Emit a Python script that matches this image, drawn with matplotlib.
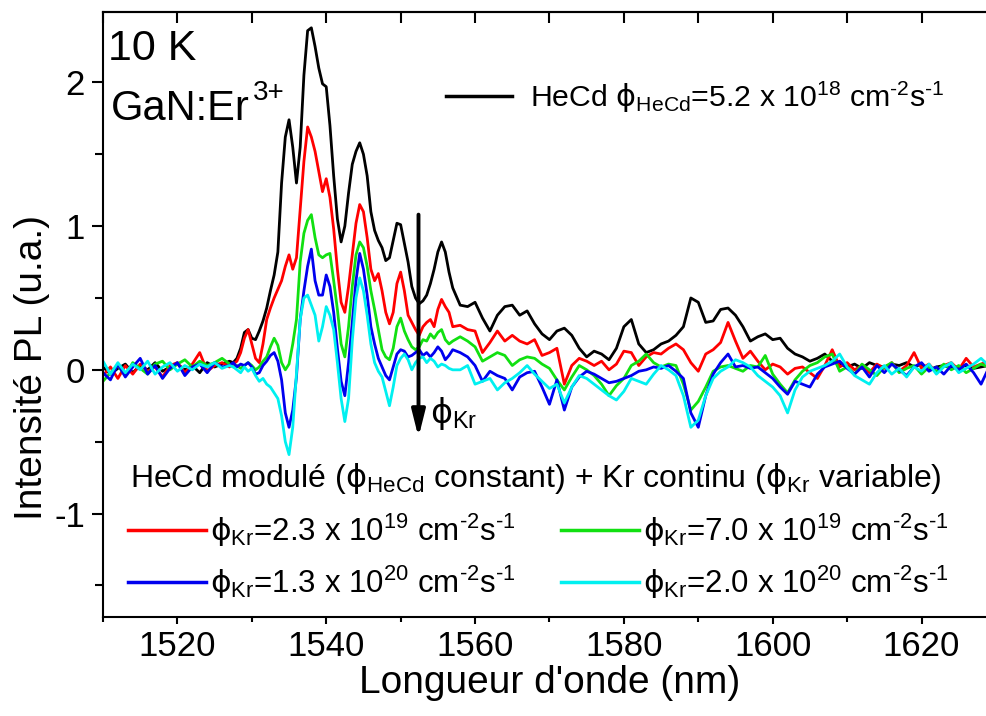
import matplotlib.pyplot as plt
import numpy as np
from matplotlib.ticker import MultipleLocator

plt.rcParams['font.family'] = 'Liberation Sans'
plt.rcParams['mathtext.fontset'] = 'custom'
plt.rcParams['mathtext.rm'] = 'Liberation Sans'
plt.rcParams['mathtext.it'] = 'Liberation Sans:italic'
plt.rcParams['mathtext.sf'] = 'DejaVu Sans'
plt.rcParams['mathtext.default'] = 'regular'
plt.rcParams['axes.unicode_minus'] = False

# wavelength grid (nm): 1 nm steps on the flat parts, 0.5 nm over the Er peaks
wavelength = np.concatenate([np.arange(1510, 1527.5, 1.0),
                             np.arange(1527.5, 1557.5, 0.5),
                             np.arange(1558, 1630, 1.0)])

# HeCd only
black = [
    0.02, -0.03, 0.01, 0.04, -0.02, 0.03, 0.00, 0.05, -0.01, 0.02, 0.04, 0.00, 0.03, -0.02, 0.05, 0.02, 0.04, 0.06,
    0.05, 0.08, 0.15, 0.26, 0.28, 0.22, 0.21, 0.27, 0.34, 0.43,
    0.55, 0.66, 0.82, 1.30, 1.62, 1.74, 1.55, 1.30, 1.55, 2.05,
    2.36, 2.38, 2.25, 2.10, 1.99, 1.97, 1.70, 1.35, 1.05, 0.89,
    1.00, 1.23, 1.43, 1.52, 1.58, 1.50, 1.35, 1.10, 0.97, 0.90,
    0.85, 0.76, 0.78, 0.90, 1.02, 1.01, 0.88, 0.75, 0.58, 0.50,
    0.46, 0.48, 0.52, 0.60, 0.70, 0.82, 0.89, 0.82, 0.68, 0.57,
    0.45, 0.44, 0.47, 0.36, 0.27, 0.38, 0.44, 0.45, 0.38, 0.41,
    0.32, 0.25, 0.21, 0.27, 0.29, 0.24, 0.15, 0.09, 0.13, 0.11,
    0.07, 0.15, 0.30, 0.35, 0.18, 0.12, 0.14, 0.18, 0.20, 0.24,
    0.30, 0.50, 0.47, 0.33, 0.34, 0.42, 0.43, 0.38, 0.30, 0.20,
    0.23, 0.25, 0.21, 0.22, 0.15, 0.11, 0.09, 0.06, 0.08, 0.11,
    0.06, 0.04, 0.02, 0.04, 0.01, 0.05, 0.03, 0.02, 0.04, 0.03,
    0.05, 0.02, 0.04, 0.00, 0.02, 0.03, 0.01, 0.02, 0.03, 0.01,
    0.02, 0.03,
]

# HeCd modulated + Kr, increasing Kr flux
red = [
    -0.04, 0.02, -0.06, 0.03, -0.03, 0.04, -0.01, 0.02, -0.05, 0.03, 0.05, -0.02, 0.04, 0.12, -0.01, 0.03, 0.05, 0.02,
    0.04, 0.06, 0.12, 0.22, 0.28, 0.18, 0.08, 0.05, 0.18, 0.35,
    0.43, 0.50, 0.56, 0.62, 0.72, 0.80, 0.70, 0.78, 1.12, 1.45,
    1.69, 1.62, 1.52, 1.38, 1.24, 1.33, 1.20, 0.98, 0.70, 0.47,
    0.40, 0.58, 0.80, 1.02, 1.15, 1.10, 0.92, 0.70, 0.62, 0.67,
    0.55, 0.40, 0.32, 0.40, 0.60, 0.68, 0.55, 0.38, 0.33, 0.28,
    0.24, 0.30, 0.33, 0.35, 0.30, 0.42, 0.49, 0.44, 0.40, 0.30,
    0.31, 0.28, 0.27, 0.12, 0.19, 0.27, 0.20, 0.24, 0.20, 0.18,
    0.21, 0.10, 0.12, 0.15, -0.10, 0.03, 0.08, 0.06, 0.03, 0.06,
    0.00, 0.04, 0.13, 0.12, 0.03, 0.09, 0.12, 0.11, 0.15, 0.18,
    0.14, 0.05, -0.01, 0.11, 0.14, 0.19, 0.33, 0.20, 0.08, 0.13,
    0.06, 0.00, 0.04, 0.02, -0.03, 0.01, 0.02, -0.02, -0.06, 0.03,
    0.14, 0.02, 0.05, 0.00, 0.03, -0.02, 0.04, 0.01, 0.05, -0.01,
    0.03, 0.12, 0.01, 0.04, -0.02, 0.03, 0.05, 0.00, 0.08, 0.02,
    0.04, 0.06,
]

green = [
    -0.08, -0.02, 0.03, -0.04, 0.05, 0.01, -0.03, 0.04, 0.06, 0.00, 0.04, 0.07, 0.02, 0.06, 0.03, 0.05, 0.08, 0.04,
    0.02, 0.03, 0.01, 0.03, 0.05, 0.03, 0.00, 0.02, 0.06, 0.09,
    0.16, 0.22, 0.17, 0.05, 0.00, 0.04, 0.18, 0.35, 0.75, 0.95,
    1.04, 1.08, 0.92, 0.80, 0.78, 0.80, 0.81, 0.62, 0.42, 0.18,
    0.09, 0.30, 0.58, 0.80, 0.89, 0.85, 0.72, 0.55, 0.42, 0.28,
    0.14, 0.09, 0.07, 0.15, 0.30, 0.36, 0.27, 0.21, 0.16, 0.14,
    0.16, 0.21, 0.20, 0.25, 0.22, 0.26, 0.28, 0.21, 0.18, 0.20,
    0.23, 0.20, 0.16, 0.06, 0.09, 0.12, 0.10, 0.03, 0.07, 0.09,
    0.08, 0.04, 0.01, -0.07, -0.14, -0.05, 0.03, 0.00, -0.04, -0.10,
    -0.18, -0.11, -0.06, 0.03, 0.06, 0.11, 0.05, 0.02, 0.04, 0.03,
    -0.10, -0.28, -0.22, -0.12, -0.01, 0.02, 0.03, 0.01, -0.01, 0.03,
    0.02, 0.10, -0.03, -0.10, -0.16, -0.07, -0.01, 0.03, 0.05, 0.09,
    0.11, -0.01, 0.02, -0.03, 0.04, 0.00, -0.04, 0.02, 0.05, -0.02,
    0.01, 0.03, -0.03, 0.02, -0.01, 0.04, 0.00, 0.03, -0.02, 0.01,
    0.04, 0.02,
]

blue = [
    -0.02, -0.07, 0.04, -0.05, 0.02, 0.08, -0.03, 0.03, -0.06, 0.01, 0.05, -0.04, 0.02, 0.04, -0.02, 0.05, 0.02, 0.03,
    0.05, 0.02, 0.04, 0.03, 0.05, 0.02, -0.03, -0.02, 0.03, 0.06,
    0.10, 0.12, 0.06, -0.07, -0.30, -0.40, -0.28, -0.05, 0.35, 0.55,
    0.72, 0.84, 0.62, 0.52, 0.52, 0.66, 0.58, 0.40, 0.15, -0.08,
    -0.18, 0.05, 0.33, 0.62, 0.81, 0.70, 0.52, 0.30, 0.18, 0.08,
    0.02, -0.04, -0.07, 0.02, 0.11, 0.14, 0.13, 0.09, 0.10, 0.12,
    0.14, 0.10, 0.12, 0.09, 0.12, 0.16, 0.13, 0.07, 0.10, 0.14,
    0.12, 0.09, 0.03, -0.08, -0.01, -0.04, -0.06, -0.14, -0.05, -0.02,
    -0.01, -0.12, -0.24, -0.07, -0.28, -0.12, -0.05, -0.01, -0.03, -0.06,
    -0.09, -0.08, -0.06, -0.04, -0.01, 0.00, 0.02, 0.01, 0.03, -0.01,
    -0.06, -0.30, -0.40, -0.18, -0.03, 0.05, 0.11, 0.02, 0.03, 0.01,
    0.02, -0.02, -0.06, -0.12, -0.17, -0.08, -0.10, -0.12, -0.03, 0.02,
    0.04, 0.06, 0.01, -0.03, 0.02, -0.05, 0.03, -0.02, 0.04, 0.00,
    -0.04, 0.02, 0.05, -0.01, 0.02, -0.03, 0.03, 0.00, 0.04, -0.02,
    -0.10, 0.01,
]

cyan = [
    0.06, -0.03, 0.05, -0.02, 0.04, 0.00, 0.06, -0.03, 0.02, 0.05, -0.01, 0.03, 0.00, 0.04, 0.02, 0.05, 0.01, 0.03,
    0.02, 0.00, -0.02, 0.02, -0.01, 0.01, -0.04, -0.08, -0.06, -0.10,
    -0.12, -0.16, -0.20, -0.32, -0.50, -0.59, -0.40, -0.02, 0.35, 0.50,
    0.52, 0.45, 0.38, 0.20, 0.30, 0.44, 0.38, 0.28, 0.05, -0.20,
    -0.36, -0.20, 0.20, 0.50, 0.64, 0.55, 0.38, 0.18, 0.05, -0.01,
    -0.05, -0.15, -0.25, -0.12, 0.03, 0.08, 0.11, 0.07, 0.00, 0.05,
    0.08, 0.09, 0.05, 0.08, 0.06, 0.02, 0.04, 0.03, 0.01, 0.00,
    0.00, 0.03, -0.10, -0.08, -0.06, -0.14, -0.09, -0.06, -0.02, 0.03,
    -0.03, -0.08, -0.13, -0.10, -0.23, -0.12, -0.04, -0.06, -0.10, -0.14,
    -0.18, -0.21, -0.15, -0.06, -0.08, -0.10, -0.03, 0.03, 0.00, -0.04,
    -0.18, -0.40, -0.35, -0.18, -0.06, -0.01, 0.02, 0.07, 0.05, 0.02,
    -0.04, -0.08, -0.12, -0.18, -0.30, -0.14, -0.05, -0.01, 0.01, 0.03,
    0.06, 0.11, 0.02, -0.04, -0.07, -0.10, -0.02, 0.03, -0.03, 0.01,
    -0.05, 0.02, -0.01, 0.04, -0.03, 0.02, 0.05, -0.02, 0.01, 0.04,
    0.08, 0.03,
]

PHI = r'\mathsf{ϕ}'
UNIT = r' cm$^{‐2}$s$^{‐1}$'
black_label = r'HeCd $' + PHI + r'_{HeCd}$=5.2 x 10$^{18}$' + UNIT
kr_labels = [r'$' + PHI + r'_{Kr}$=2.3 x 10$^{19}$' + UNIT,
             r'$' + PHI + r'_{Kr}$=7.0 x 10$^{19}$' + UNIT,
             r'$' + PHI + r'_{Kr}$=1.3 x 10$^{20}$' + UNIT,
             r'$' + PHI + r'_{Kr}$=2.0 x 10$^{20}$' + UNIT]
header = (r'HeCd modulé ($' + PHI + r'_{HeCd}$ constant) + Kr continu ($'
          + PHI + r'_{Kr}$ variable)')

fig = plt.figure(figsize=(9.87, 7.16), dpi=100)
ax = fig.add_axes([103 / 987, 99 / 716, 884 / 987, 605 / 716])

lw = 2.0
l_black, = ax.plot(wavelength, black, color='black', lw=lw)
l_red, = ax.plot(wavelength, red, color='#ff0000', lw=lw)
l_green, = ax.plot(wavelength, green, color='#11e011', lw=lw)
l_blue, = ax.plot(wavelength, blue, color='#0000ee', lw=lw)
l_cyan, = ax.plot(wavelength, cyan, color='#00f0f0', lw=lw)

ax.set_xlim(1510, 1628.8)
ax.set_ylim(-1.72, 2.49)

ax.xaxis.set_major_locator(MultipleLocator(20))
ax.xaxis.set_minor_locator(MultipleLocator(10))
ax.yaxis.set_major_locator(MultipleLocator(1))
ax.yaxis.set_minor_locator(MultipleLocator(0.5))
ax.tick_params(axis='x', which='major', direction='out', length=5, width=1.5,
               labelsize=25, pad=4, top=False)
ax.tick_params(axis='x', which='minor', direction='out', length=3.5, width=1.5, top=False)
ax.tick_params(axis='y', which='major', direction='out', length=8, width=1.5,
               labelsize=25, pad=5, right=False)
ax.tick_params(axis='y', which='minor', direction='out', length=6, width=1.5, right=False)
ax.spines['right'].set_visible(False)
for s in ['left', 'bottom', 'top']:
    ax.spines[s].set_linewidth(1.5)

top = ax.secondary_xaxis('top')
top.xaxis.set_major_locator(MultipleLocator(10))
top.tick_params(direction='in', length=8, width=1.5, labeltop=False)
top.spines['top'].set_linewidth(1.5)

ax.set_xlabel("Longueur d'onde (nm)", fontsize=28)
ax.xaxis.set_label_coords(0.5057, -0.080)
ax.set_ylabel('Intensité PL (u.a.)', fontsize=28)
ax.yaxis.set_label_coords(-0.06, 0.413)

ax.text(0.006, 0.9207, '10 K', transform=ax.transAxes, fontsize=31, va='baseline')
ax.text(0.009, 0.8215, 'GaN:Er', transform=ax.transAxes, fontsize=30, va='baseline')
ax.text(0.1695, 0.8545, '3+', transform=ax.transAxes, fontsize=20, va='baseline')

ax.annotate('', xy=(1552.4, -0.47), xytext=(1552.4, 1.08),
            arrowprops=dict(arrowstyle='-|>,head_width=0.25,head_length=1.0',
                            color='black', lw=2.8, mutation_scale=16,
                            shrinkA=0, shrinkB=0))
ax.text(1554.0, -0.37, r'$' + PHI + r'_{Kr}$', fontsize=24, va='baseline')

ax.text(0.0305, 0.2149, header, transform=ax.transAxes, fontsize=23, va='baseline')

leg2 = ax.legend([l_red, l_blue, l_green, l_cyan],
                 [kr_labels[0], kr_labels[2], kr_labels[1], kr_labels[3]],
                 ncol=2, loc='lower left', bbox_to_anchor=(0.028, 0.027),
                 frameon=False, fontsize=22.5, handlelength=2.5, handletextpad=0.12,
                 columnspacing=1.45, labelspacing=0.47, borderpad=0, borderaxespad=0)
for h in leg2.get_lines():
    h.set_linewidth(2.5)
ax.add_artist(leg2)

leg1 = ax.legend([l_black], [black_label], loc='upper right',
                 bbox_to_anchor=(0.9525, 0.888), frameon=False, fontsize=21.8,
                 handlelength=2.2, handletextpad=0.6, borderpad=0, borderaxespad=0)
for h in leg1.get_lines():
    h.set_linewidth(2.5)

fig.savefig('out.png', dpi=100)
